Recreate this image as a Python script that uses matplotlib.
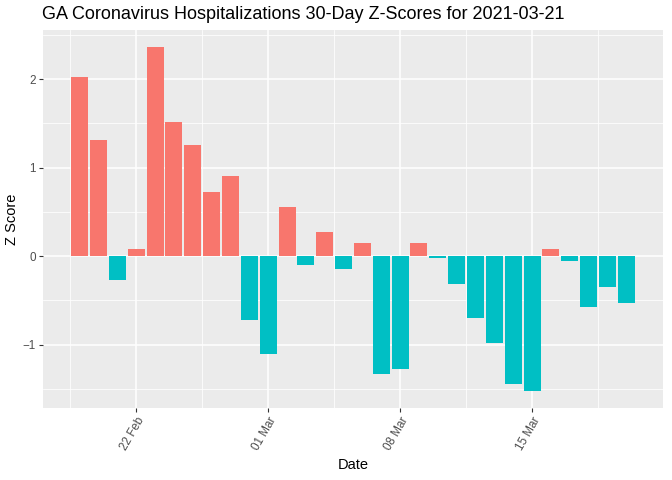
import datetime as dt
import matplotlib
matplotlib.use("Agg")
import matplotlib.pyplot as plt
import matplotlib.dates as mdates
import numpy as np

# 30 days of z-scores, 2021-02-19 .. 2021-03-20
start_date = dt.date(2021, 2, 19)
z_scores = [2.02, 1.31, -0.27, 0.08, 2.36, 1.51, 1.26, 0.73, 0.90, -0.72,
            -1.10, 0.56, -0.10, 0.27, -0.15, 0.15, -1.33, -1.27, 0.15, -0.02,
            -0.31, -0.70, -0.98, -1.44, -1.52, 0.08, -0.05, -0.57, -0.35, -0.53]
dates = [start_date + dt.timedelta(days=i) for i in range(len(z_scores))]
tick_dates = [dt.date(2021, 2, 22), dt.date(2021, 3, 1), dt.date(2021, 3, 8), dt.date(2021, 3, 15)]
title = "GA Coronavirus Hospitalizations 30-Day Z-Scores for 2021-03-21"

plt.rcParams['font.family'] = ['Liberation Sans', 'DejaVu Sans']

fig = plt.figure(figsize=(6.72, 4.8), dpi=100)
ax = fig.add_axes([43 / 672, 1 - 408 / 480, 620 / 672, 378 / 480])
ax.set_facecolor('#EBEBEB')

colors = ['#F8766D' if v > 0 else '#00BFC4' for v in z_scores]
ax.bar(dates, z_scores, width=0.9, color=colors, zorder=3)

# limits with ggplot-style expansion
lo = mdates.date2num(dates[0]) - 0.45
hi = mdates.date2num(dates[-1]) + 0.45
pad = (hi - lo) * 0.05
ax.set_xlim(lo - pad, hi + pad)
ymin, ymax = min(z_scores), max(z_scores)
ypad = (ymax - ymin) * 0.05
ax.set_ylim(ymin - ypad, ymax + ypad)

ax.set_xticks([mdates.date2num(d) for d in tick_dates])
ax.xaxis.set_major_formatter(mdates.DateFormatter('%d %b'))
minor_x = [mdates.date2num(d) - 3.5 for d in tick_dates] + [mdates.date2num(tick_dates[-1]) + 3.5]
ax.set_xticks(minor_x, minor=True)
ax.set_yticks([-1, 0, 1, 2])
ax.set_yticks([-1.5, -0.5, 0.5, 1.5, 2.5], minor=True)

ax.grid(which='major', color='white', linewidth=1.1, zorder=0)
ax.grid(which='minor', color='white', linewidth=0.55, zorder=0)
ax.set_axisbelow(True)
for s in ax.spines.values():
    s.set_visible(False)

ax.tick_params(axis='both', which='major', length=3, color='#333333', labelsize=8.4,
               labelcolor='#4D4D4D', pad=2)
ax.tick_params(axis='both', which='minor', length=0)
plt.setp(ax.get_xticklabels(), rotation=60, ha='right', rotation_mode='anchor')

ax.set_xlabel('Date', fontsize=10.5, color='black')
ax.set_ylabel('Z Score', fontsize=10.5, color='black')
ax.yaxis.set_label_coords(-24 / 620, 0.5)
ax.set_title(title, fontsize=13, loc='left', x=-0.002, pad=8)

fig.savefig('out.png', dpi=100)
